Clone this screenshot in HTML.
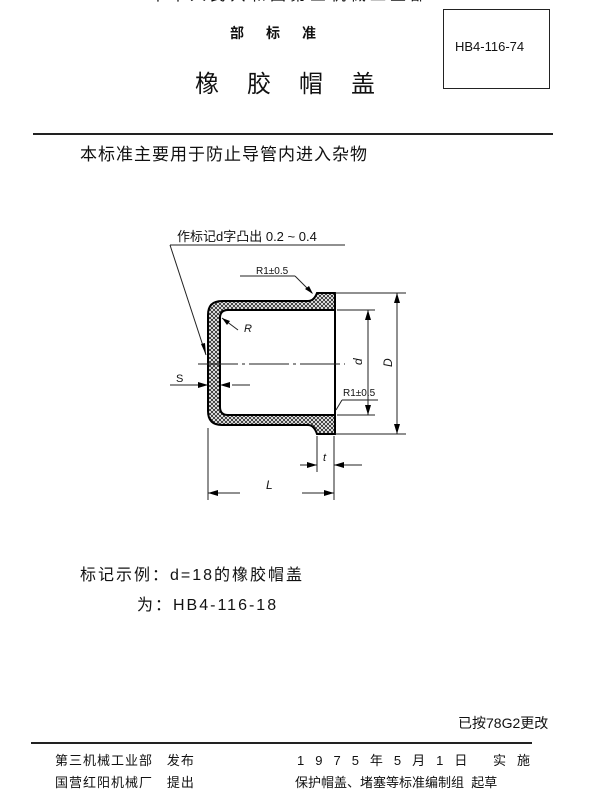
<!DOCTYPE html>
<html><head><meta charset="utf-8"><style>
html,body{margin:0;padding:0;background:#fff;}
body{width:600px;height:807px;position:relative;overflow:hidden;font-family:"Liberation Sans","Noto Sans CJK SC",sans-serif;color:#111;}
.t{position:absolute;white-space:nowrap;line-height:1;}
</style></head><body>
<div class="t" style="left:150px;top:-12px;font-size:16px;letter-spacing:4px;">中华人民共和国第三机械工业部</div>
<div class="t" style="left:230px;top:26px;font-size:14px;letter-spacing:22px;font-weight:bold;">部标准</div>
<div class="t" style="left:195px;top:73px;font-size:24px;letter-spacing:28px;">橡胶帽盖</div>
<div style="position:absolute;left:443px;top:9px;width:105px;height:78px;border:1px solid #222;"></div>
<div class="t" style="left:455px;top:40px;font-size:13px;">HB4-116-74</div>
<div style="position:absolute;left:33px;top:133px;width:520px;height:2px;background:#222;"></div>
<div class="t" style="left:80px;top:146px;font-size:17px;letter-spacing:1px;">本标准主要用于防止导管内进入杂物</div>

<svg width="600" height="807" style="position:absolute;left:0;top:0" xmlns="http://www.w3.org/2000/svg">
<defs>
<pattern id="h" width="4" height="4" patternUnits="userSpaceOnUse">
<path d="M0,0L4,4M4,0L0,4" stroke="#222" stroke-width="0.8"/>
</pattern>
</defs>
<path fill="url(#h)" fill-rule="evenodd" stroke="#000" stroke-width="2"
d="M335,293 L317,293 Q314,301 308,301 L222,301 Q208,301 208,315 L208,411 Q208,425 222,425 L308,425 Q314,425 317,434 L335,434 Z
M335,310 L228,310 Q220,310 220,318 L220,407 Q220,415 228,415 L335,415 Z"/>
<g stroke="#222" stroke-width="1" fill="none">
<line x1="170" y1="245" x2="345" y2="245"/>
<line x1="170" y1="245" x2="206" y2="355"/>
<line x1="198" y1="364" x2="345" y2="364" stroke-dasharray="40,4,3,4"/>
<line x1="170" y1="385" x2="207" y2="385"/>
<line x1="232" y1="385" x2="250" y2="385"/>
<line x1="222" y1="318" x2="238" y2="330"/>
<line x1="295" y1="276" x2="312" y2="293"/>
<line x1="240" y1="276" x2="295" y2="276"/>
<line x1="335" y1="293" x2="406" y2="293"/>
<line x1="335" y1="434" x2="406" y2="434"/>
<line x1="337" y1="310" x2="375" y2="310"/>
<line x1="337" y1="415" x2="375" y2="415"/>
<line x1="368" y1="310" x2="368" y2="415"/>
<line x1="397" y1="293" x2="397" y2="434"/>
<line x1="342" y1="400" x2="336" y2="410"/>
<line x1="342" y1="400" x2="378" y2="400"/>
<line x1="317" y1="436" x2="317" y2="472"/>
<line x1="334" y1="436" x2="334" y2="500"/>
<line x1="300" y1="465" x2="317" y2="465"/>
<line x1="334" y1="465" x2="362" y2="465"/>
<line x1="208" y1="428" x2="208" y2="500"/>
<line x1="208" y1="493" x2="240" y2="493"/>
<line x1="302" y1="493" x2="334" y2="493"/>
</g>
<g fill="#000">
<path d="M206,355 L201,344 L205,343 Z"/>
<path d="M208,385 L198,382 L198,388 Z"/>
<path d="M220,385 L230,382 L230,388 Z"/>
<path d="M222,318 L230,321 L227,325 Z"/>
<path d="M313,294 L305,289 L309,286 Z"/>
<path d="M368,310 L365,320 L371,320 Z"/>
<path d="M368,415 L365,405 L371,405 Z"/>
<path d="M397,293 L394,303 L400,303 Z"/>
<path d="M397,434 L394,424 L400,424 Z"/>
<path d="M317,465 L307,462 L307,468 Z"/>
<path d="M334,465 L344,462 L344,468 Z"/>
<path d="M208,493 L218,490 L218,496 Z"/>
<path d="M334,493 L324,490 L324,496 Z"/>
</g>
<g font-family="Liberation Sans, Noto Sans CJK SC, sans-serif" fill="#111">
<text x="177" y="241" font-size="13">作标记d字凸出 0.2 ~ 0.4</text>
<text x="256" y="274" font-size="10">R1±0.5</text>
<text x="244" y="332" font-size="11" font-style="italic">R</text>
<text x="176" y="382" font-size="11">S</text>
<text x="343" y="396" font-size="10">R1±0.5</text>
<text x="0" y="0" font-size="12" font-style="italic" transform="translate(362,365) rotate(-90)">d</text>
<text x="0" y="0" font-size="12" font-style="italic" transform="translate(392,367) rotate(-90)">D</text>
<text x="323" y="461" font-size="11" font-style="italic">t</text>
<text x="266" y="489" font-size="12" font-style="italic">L</text>
</g>
</svg>

<div class="t" style="left:80px;top:568px;font-size:16px;letter-spacing:2px;">标记示例：d=18的橡胶帽盖</div>
<div class="t" style="left:137px;top:598px;font-size:16px;letter-spacing:2px;">为：HB4-116-18</div>
<div class="t" style="left:458px;top:716px;font-size:14px;">已按78G2更改</div>
<div style="position:absolute;left:31px;top:742px;width:501px;height:2px;background:#222;"></div>
<div class="t" style="left:55px;top:754px;font-size:13px;letter-spacing:1px;">第三机械工业部 &nbsp; 发布</div>
<div class="t" style="left:55px;top:776px;font-size:13px;letter-spacing:1px;">国营红阳机械厂 &nbsp; 提出</div>
<div class="t" style="left:297px;top:754px;font-size:13px;letter-spacing:11px;">1975年5月1日 实施</div>
<div class="t" style="left:295px;top:776px;font-size:13px;">保护帽盖、堵塞等标准编制组 &nbsp;起草</div>
</body></html>
